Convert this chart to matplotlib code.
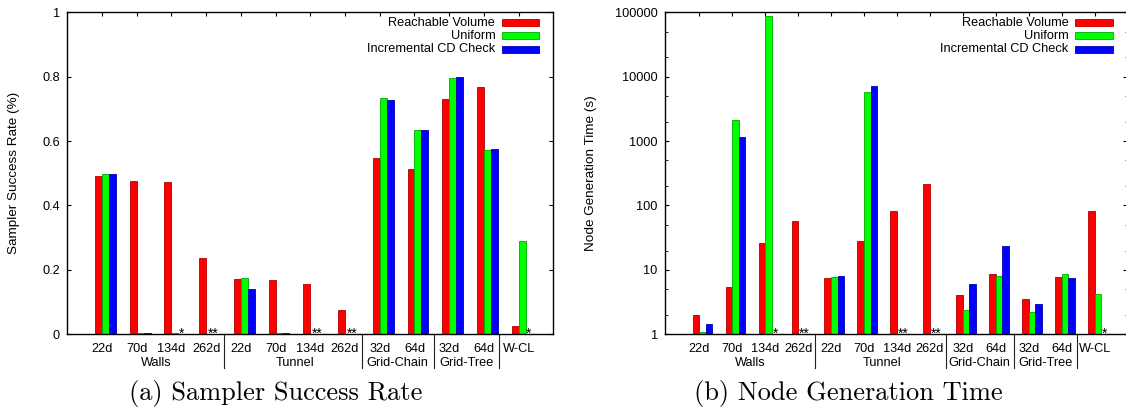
import numpy as np
import matplotlib

matplotlib.use("Agg")
import matplotlib.pyplot as plt
from matplotlib.patches import Rectangle
from matplotlib.ticker import FixedLocator, NullFormatter
from matplotlib.transforms import blended_transform_factory

W, H = 1126, 411
NAN = float("nan")

tick_labels = ["22d", "70d", "134d", "262d", "22d", "70d", "134d", "262d",
               "32d", "64d", "32d", "64d", "W-CL"]
group_names = ["Walls", "Tunnel", "Grid-Chain", "Grid-Tree"]
group_centers = [1.55, 5.55, 8.5, 10.5]
group_bounds = [3.5, 7.5, 9.55, 11.45]
series_names = ["Reachable Volume", "Uniform", "Incremental CD Check"]
series_colors = ["#ff0000", "#00ff00", "#0000ff"]
edge_colors = ["#b00000", "#00a800", "#0000b0"]
missing_marks = ["", "", "*", "**", "", "", "**", "**", "", "", "", "", "*"]

# (a) sampler success rate
success_rv = [0.492, 0.476, 0.474, 0.237, 0.171, 0.169, 0.156, 0.076, 0.548, 0.512, 0.731, 0.768, 0.026]
success_uniform = [0.498, 0.004, 0.004, NAN, 0.174, 0.004, NAN, NAN, 0.733, 0.633, 0.796, 0.573, 0.290]
success_incr = [0.497, 0.004, NAN, NAN, 0.141, 0.004, NAN, NAN, 0.727, 0.634, 0.799, 0.575, NAN]

# (b) node generation time (s)
time_rv = [2.0, 5.44, 26.6, 57.0, 7.42, 28.6, 82.6, 218.0, 4.09, 8.57, 3.54, 7.78, 80.7]
time_uniform = [1.09, 2090, 87000, NAN, 7.78, 5730, NAN, NAN, 2.39, 7.97, 2.22, 8.57, 4.24]
time_incr = [1.45, 1153, NAN, NAN, 8.07, 7080, NAN, NAN, 5.98, 23.3, 2.96, 7.5, NAN]

SANS = "Liberation Sans"
FS = 9.2
BAR_W = 0.2
OFFSETS = [-0.1, 0.1, 0.3]


def axes_rect(x0, x1, ytop, ybot):
    return [x0 / W, 1 - ybot / H, (x1 - x0) / W, (ybot - ytop) / H]


def draw_panel(fig, rect, series, base, ylabel, ylabel_x, caption, caption_x, xlim):
    ax = fig.add_axes(axes_rect(*rect))
    x = np.arange(len(tick_labels))
    for vals, col, ec, off in zip(series, series_colors, edge_colors, OFFSETS):
        v = np.asarray(vals, dtype=float)
        ax.bar(x + off, v - base, width=BAR_W, bottom=base, color=col,
               edgecolor=ec, linewidth=0.6, zorder=2)

    ax.set_xlim(*xlim)
    ax.set_xticks(x)
    ax.set_xticklabels(tick_labels, fontfamily=SANS, fontsize=FS)
    ax.tick_params(axis="x", bottom=False, top=True, labelbottom=True,
                   direction="in", length=3.2, width=0.8, pad=6.3)
    ax.tick_params(axis="y", left=True, right=True, direction="in",
                   length=3.2, width=0.8, pad=5.3, labelsize=FS)
    for sp in ax.spines.values():
        sp.set_linewidth(1.0)

    # asterisks for runs without a result
    for i, mark in enumerate(missing_marks):
        if not mark:
            continue
        off = 0.3 if mark == "*" else 0.2
        ax.annotate(mark, (i + off, base), xytext=(0, -2.5), textcoords="offset points",
                    ha="center", va="baseline", fontsize=10, fontfamily=SANS, zorder=3)

    # group labels and separators under the axis
    trans = blended_transform_factory(ax.transData, ax.transAxes)
    ax_h = rect[3] - rect[2]
    sep_len = (368 - rect[3]) / ax_h
    for b in group_bounds:
        ax.plot([b, b], [0, -sep_len], transform=trans, color="#222222",
                linewidth=0.8, clip_on=False)
    gy = -(362.5 - rect[3]) / ax_h
    for name, c in zip(group_names, group_centers):
        ax.text(c, gy, name, transform=trans, ha="center", va="center",
                fontsize=FS, fontfamily=SANS)

    # legend: text right-aligned, colour key on the right
    ax_w = rect[1] - rect[0]
    rows = [22.7, 35.7, 49.3]
    for name, col, ec, ry in zip(series_names, series_colors, edge_colors, rows):
        yc = 1 - (ry - rect[2]) / ax_h
        hx0 = (rect[1] - 51.6 - rect[0]) / ax_w
        hx1 = (rect[1] - 14.0 - rect[0]) / ax_w
        hh = 7.3 / ax_h
        ax.add_patch(Rectangle((hx0, yc - hh / 2), hx1 - hx0, hh, transform=ax.transAxes,
                               facecolor=col, edgecolor=ec, linewidth=0.6, clip_on=False))
        ax.text((rect[1] - 58.0 - rect[0]) / ax_w, yc, name, transform=ax.transAxes,
                ha="right", va="center", fontsize=FS, fontfamily=SANS)

    yc_mid = (rect[2] + rect[3]) / 2
    fig.text(ylabel_x / W, 1 - yc_mid / H, ylabel, rotation=90, ha="center", va="center",
             fontsize=9.7, fontfamily=SANS)
    fig.text(caption_x / W, 1 - 393 / H, caption, ha="center", va="center",
             fontsize=19, fontfamily="cmr10")
    return ax


fig = plt.figure(figsize=(W / 100, H / 100), dpi=100)

ax1 = draw_panel(fig, (67.3, 553.3, 12.3, 334.3),
                 [success_rv, success_uniform, success_incr], 0.0,
                 "Sampler Success Rate (%)", 14.3,
                 "(a) Sampler Success Rate", 276, (-1, 13))
ax1.set_ylim(0, 1)
ax1.yaxis.set_major_locator(FixedLocator([0, 0.2, 0.4, 0.6, 0.8, 1.0]))
ax1.set_yticklabels(["0", "0.2", "0.4", "0.6", "0.8", "1"], fontfamily=SANS, fontsize=FS)

ax2 = draw_panel(fig, (665.0, 1126.6, 12.3, 334.3),
                 [time_rv, time_uniform, time_incr], 1.0,
                 "Node Generation Time (s)", 590.7,
                 "(b) Node Generation Time", 848, (-1.04, 12.97))
ax2.set_yscale("log")
ax2.set_ylim(1, 100000)
decades = [1, 10, 100, 1000, 10000, 100000]
ax2.yaxis.set_major_locator(FixedLocator(decades))
ax2.set_yticklabels([str(d) for d in decades], fontfamily=SANS, fontsize=FS)
minor = [d * m for d in decades[:-1] for m in (2, 5)]
ax2.yaxis.set_minor_locator(FixedLocator(minor))
ax2.yaxis.set_minor_formatter(NullFormatter())
ax2.tick_params(axis="y", which="minor", left=True, right=True, direction="in",
                length=1.8, width=0.6)
ax2.tick_params(axis="y", which="major", left=True, right=True, direction="in",
                length=3.2, width=0.8, pad=5.3)

fig.savefig("out.png", dpi=100)
